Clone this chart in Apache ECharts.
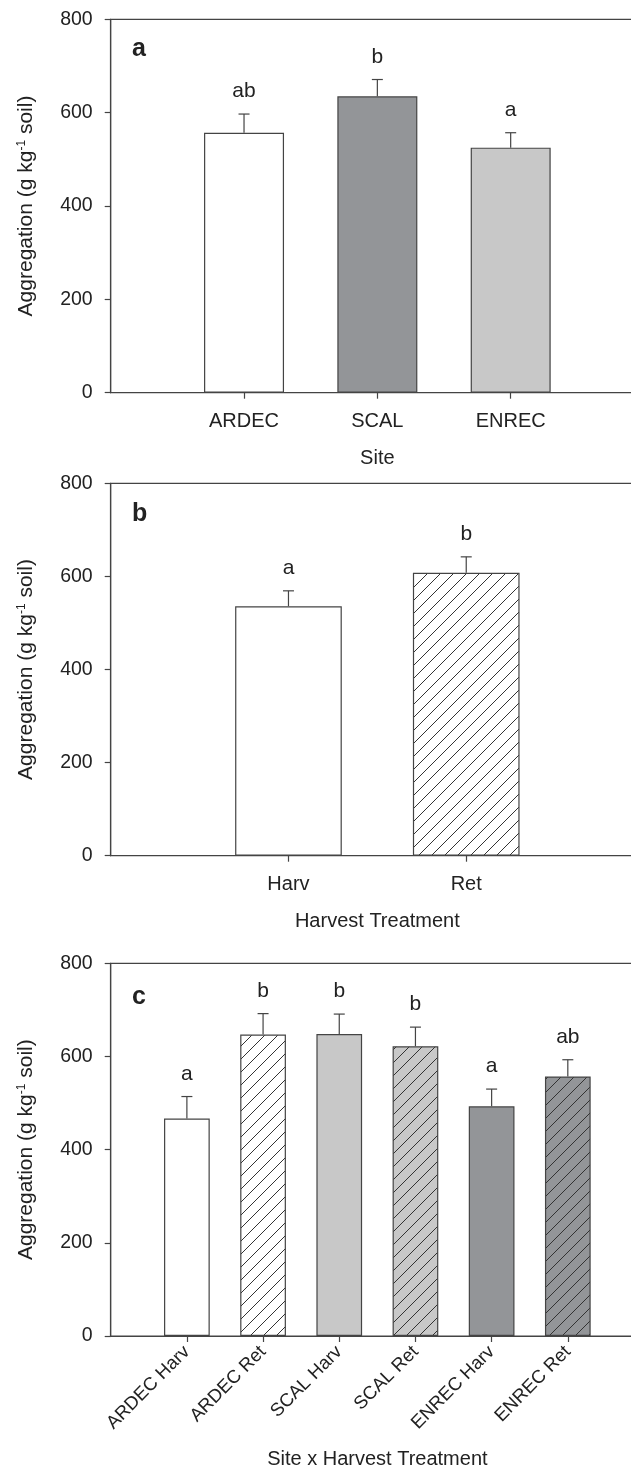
<!DOCTYPE html>
<html>
<head>
<meta charset="utf-8">
<script src="https://cdn.jsdelivr.net/npm/echarts@6/dist/echarts.min.js"></script>
<style>
  html, body { margin: 0; padding: 0; background: #ffffff; }
  #chart { width: 631px; height: 1467px; }
</style>
</head>
<body>
<div id="chart"></div>
<script>
// ---------------- data ----------------
const yTicks = [0, 200, 400, 600, 800];

const siteCategories = ['ARDEC', 'SCAL', 'ENREC'];
const siteMeans = [557, 635, 525];
const siteSE = [40, 36, 32];
const siteLetters = ['ab', 'b', 'a'];

const harvestCategories = ['Harv', 'Ret'];
const harvestMeans = [536, 608];
const harvestSE = [33, 34];
const harvestLetters = ['a', 'b'];

const comboCategories = ['ARDEC Harv', 'ARDEC Ret', 'SCAL Harv', 'SCAL Ret', 'ENREC Harv', 'ENREC Ret'];
const comboMeans = [467, 647, 648, 622, 493, 557];
const comboSE = [47, 45, 43, 41, 37, 36];
const comboLetters = ['a', 'b', 'b', 'b', 'a', 'ab'];

const panelLabels = ['a', 'b', 'c'];
const xAxisTitles = ['Site', 'Harvest Treatment', 'Site x Harvest Treatment'];
const yAxisTitle = 'Aggregation (g kg{sup|-1} soil)';

// ---------------- styles ----------------
const FONT = '"Liberation Sans", Arial, Helvetica, sans-serif';
const INK = '#222222';
const LINE = '#444444';
const WHITE = '#ffffff';
const DARK = '#939598';
const LIGHT = '#c8c8c8';

function hatch(bg) {
  const s = 13;
  const c = document.createElement('canvas');
  c.width = s; c.height = s;
  const ctx = c.getContext('2d');
  ctx.fillStyle = bg;
  ctx.fillRect(0, 0, s, s);
  ctx.strokeStyle = '#333333';
  ctx.lineWidth = 1;
  ctx.beginPath();
  ctx.moveTo(0, s); ctx.lineTo(s, 0);
  ctx.moveTo(-3, 3); ctx.lineTo(3, -3);
  ctx.moveTo(s - 3, s + 3); ctx.lineTo(s + 3, s - 3);
  ctx.stroke();
  return { image: c, repeat: 'repeat' };
}

const siteFills = [WHITE, DARK, LIGHT];
const harvestFills = [WHITE, hatch(WHITE)];
const comboFills = [WHITE, hatch(WHITE), LIGHT, hatch(LIGHT), DARK, hatch(DARK)];

const grids = [
  { left: 110.7, top: 19.3, width: 533.3, height: 373.4 },
  { left: 110.7, top: 483.3, width: 533.3, height: 372.4 },
  { left: 110.7, top: 963.3, width: 533.3, height: 372.7 }
];
const titleTops = [37, 502, 985];

const panels = [
  { cats: siteCategories, means: siteMeans, se: siteSE, letters: siteLetters, fills: siteFills, rotate: 0, nameGap: 56 },
  { cats: harvestCategories, means: harvestMeans, se: harvestSE, letters: harvestLetters, fills: harvestFills, rotate: 0, nameGap: 56 },
  { cats: comboCategories, means: comboMeans, se: comboSE, letters: comboLetters, fills: comboFills, rotate: 45, nameGap: 113 }
];

const option = {
  animation: false,
  backgroundColor: '#ffffff',
  title: panelLabels.map((t, i) => ({
    text: t, left: 132, top: titleTops[i], padding: 0,
    textStyle: { fontSize: 25, fontWeight: 'bold', fontFamily: FONT, color: INK }
  })),
  grid: grids.map(g => Object.assign({
    show: true, borderColor: LINE, borderWidth: 1.2, backgroundColor: 'transparent',
    containLabel: false, outerBoundsMode: 'none'
  }, g)),
  xAxis: panels.map((p, i) => ({
    gridIndex: i,
    type: 'category',
    boundaryGap: false,
    data: [''].concat(p.cats, [' ']),
    axisLine: { show: true, lineStyle: { color: LINE, width: 1.2 } },
    axisTick: { show: true, length: 6, lineStyle: { color: LINE, width: 1.2 },
      interval: (idx) => idx > 0 && idx <= p.cats.length },
    axisLabel: {
      interval: 0, rotate: p.rotate, margin: p.rotate ? 13 : 19,
      fontSize: p.rotate ? 18.5 : 20, fontFamily: FONT, color: INK
    },
    splitLine: { show: false },
    name: xAxisTitles[i],
    nameLocation: 'middle',
    nameGap: p.nameGap,
    nameTextStyle: { fontSize: 20, fontFamily: FONT, color: INK }
  })),
  yAxis: panels.map((p, i) => ({
    gridIndex: i,
    type: 'value',
    min: yTicks[0],
    max: yTicks[yTicks.length - 1],
    interval: yTicks[1] - yTicks[0],
    axisLine: { show: true, lineStyle: { color: LINE, width: 1.2 } },
    axisTick: { show: true, length: 6, lineStyle: { color: LINE, width: 1.2 } },
    axisLabel: { fontSize: 19.5, margin: 18, fontFamily: FONT, color: INK },
    splitLine: { show: false },
    name: yAxisTitle,
    nameLocation: 'middle',
    nameGap: 74,
    nameTextStyle: {
      fontSize: 21, fontFamily: FONT, color: INK,
      rich: { sup: { fontSize: 12, fontFamily: FONT, color: INK, verticalAlign: 'top' } }
    }
  })),
  series: []
};

panels.forEach((p, i) => {
  option.series.push({
    type: 'bar',
    xAxisIndex: i, yAxisIndex: i,
    barWidth: '60%',
    data: ['-'].concat(p.means.map((v, k) => ({
      value: v,
      itemStyle: { color: p.fills[k], borderColor: LINE, borderWidth: 1.2 }
    })), ['-']),
    z: 2
  });
  option.series.push({
    type: 'custom',
    xAxisIndex: i, yAxisIndex: i,
    encode: { x: 0, y: [1, 2] },
    data: p.means.map((v, k) => [k + 1, v, v + p.se[k], k]),
    z: 3,
    renderItem: function (params, api) {
      const x = api.value(0);
      const k = api.value(3);
      const a = api.coord([x, api.value(1)]);
      const b = api.coord([x, api.value(2)]);
      const st = { stroke: LINE, lineWidth: 1.2 };
      return {
        type: 'group',
        children: [
          { type: 'line', shape: { x1: a[0], y1: a[1], x2: b[0], y2: b[1] }, style: st },
          { type: 'line', shape: { x1: b[0] - 5.5, y1: b[1], x2: b[0] + 5.5, y2: b[1] }, style: st },
          { type: 'text', x: b[0], y: b[1] - 12,
            style: { text: p.letters[k], align: 'center', verticalAlign: 'bottom',
              fontSize: 21, fontFamily: FONT, fill: INK } }
        ]
      };
    }
  });
});

const chart = echarts.init(document.getElementById('chart'), null, { renderer: 'canvas' });
chart.setOption(option);
</script>
</body>
</html>
